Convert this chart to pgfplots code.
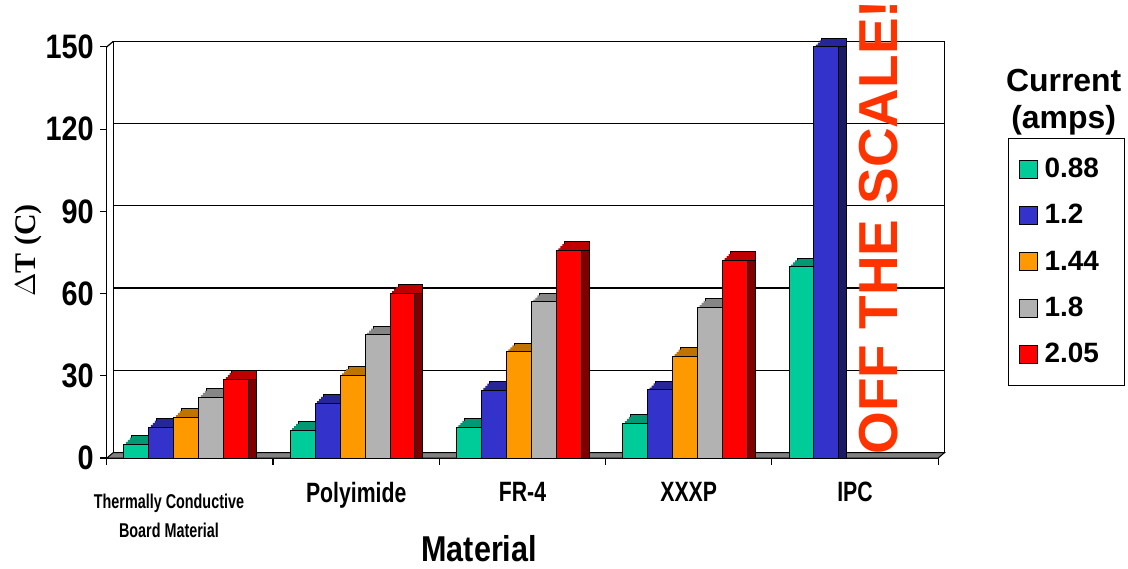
\documentclass[border=0pt]{standalone}
\usepackage{pgfplots}
\pgfplotsset{compat=1.18}
\usepackage{fontspec}
\setmainfont{Liberation Sans}[FakeStretch=0.85]
\newfontfamily\plainarial{Liberation Sans}
\newfontfamily\narrowA{Liberation Sans}[FakeStretch=0.76]
\newfontfamily\narrowB{Liberation Sans}[FakeStretch=0.72]
\newfontfamily\serifb{Liberation Serif}
\definecolor{cgreen}{HTML}{00CC99}\definecolor{cgreenT}{HTML}{009973}\definecolor{cgreenS}{HTML}{006B4F}
\definecolor{cblue}{HTML}{3333CC}\definecolor{cblueT}{HTML}{262699}\definecolor{cblueS}{HTML}{1A1A66}
\definecolor{corange}{HTML}{FF9900}\definecolor{corangeT}{HTML}{BF7300}\definecolor{corangeS}{HTML}{805000}
\definecolor{cgray}{HTML}{B2B2B2}\definecolor{cgrayT}{HTML}{868686}\definecolor{cgrayS}{HTML}{595959}
\definecolor{cred}{HTML}{FF0000}\definecolor{credT}{HTML}{BF0000}\definecolor{credS}{HTML}{800000}
\definecolor{offred}{HTML}{FF3300}
\definecolor{floorgray}{HTML}{808080}
\pgfplotsset{
  mylegend/.style={legend image code/.code={\draw[##1,draw=black,line width=0.5pt] (0pt,-4.5pt) rectangle (9pt,4.5pt);}},
}
\newcommand{\series}[5]{%
  \addplot[fill=#3, draw=black, line width=0.5pt, bar shift=#1, forget plot, transform canvas={xshift=4pt,yshift=4.3pt}] coordinates {#5};
  \addplot[fill=#3, draw=none, bar shift=#1, forget plot, transform canvas={xshift=3pt,yshift=3.2pt}] coordinates {#5};
  \addplot[fill=#3, draw=none, bar shift=#1, forget plot, transform canvas={xshift=2pt,yshift=2.15pt}] coordinates {#5};
  \addplot[fill=#3, draw=none, bar shift=#1, forget plot, transform canvas={xshift=1pt,yshift=1.1pt}] coordinates {#5};
  \addplot[fill=#4, draw=black, line width=0.5pt, bar shift=#1, forget plot, transform canvas={xshift=4pt}] coordinates {#5};
  \addplot[fill=#2, draw=black, line width=0.5pt, bar shift=#1, mylegend] coordinates {#5};
}
\begin{document}
\begin{tikzpicture}
\begin{axis}[
  scale only axis,
  width=416.5pt, height=206pt,
  xmin=-0.5, xmax=4.5, ymin=0, ymax=150,
  ybar, bar width=12.5pt,
  clip=false,
  axis x line*=bottom, axis y line*=left,
  axis line style={-, black, line width=0.6pt},
  ytick={0,30,60,90,120,150},
  tick align=outside,
  major tick length=3.5pt,
  minor tick length=3.5pt,
  ytick style={black, line width=0.6pt},
  xtick={0,1,2,3,4},
  major x tick style={draw=none},
  minor xtick={-0.5,0.5,1.5,2.5,3.5,4.5},
  minor x tick style={black, line width=0.6pt},
  xticklabels={{\narrowB\fontsize{10}{12.5}\selectfont\rule{0pt}{13pt}Thermally Conductive\hspace*{21pt}\\\narrowB\fontsize{10}{12.5}\selectfont Board Material\hspace*{21pt}},Polyimide,FR-4,XXXP,IPC},
  xticklabel style={align=center, anchor=north, yshift=-5pt, font=\narrowA\bfseries\fontsize{14}{15}\selectfont},
  yticklabel style={font=\bfseries\fontsize{17}{17}\selectfont, xshift=0.5pt},
  /pgf/number format/assume math mode=true,
  ymajorgrids,
  grid style={black, line width=0.6pt, shift={(3.25pt,2.75pt)}},
  xlabel={Material},
  xlabel style={at={(axis description cs:0.448,-0.221)}, anchor=center, font=\bfseries\fontsize{18}{18}\selectfont},
  ylabel={\serifb\bfseries $\Delta$T (C)},
  ylabel style={at={(axis description cs:-0.095,0.505)}, anchor=center, rotate=0, font=\fontsize{15}{15}\selectfont},
  legend style={at={(axis description cs:1.084,0.779)}, anchor=north west, draw=black, line width=0.6pt,
    font=\plainarial\bfseries\fontsize{14}{14}\selectfont, row sep=8pt, inner xsep=5pt, inner ysep=7.8pt,
    legend cell align=left, /tikz/every odd column/.append style={column sep=1.5pt}},
]
% back wall
\draw[black, line width=0.6pt] ([shift={(3.25pt,2.75pt)}]axis cs:-0.5,0) -- ([shift={(3.25pt,2.75pt)}]axis cs:-0.5,150) -- ([shift={(3.25pt,2.75pt)}]axis cs:4.5,150) -- ([shift={(3.25pt,2.75pt)}]axis cs:4.5,0);
\draw[black, line width=0.6pt] (axis cs:-0.5,150) -- ([shift={(3.25pt,2.75pt)}]axis cs:-0.5,150);
% floor
\filldraw[fill=floorgray, draw=black, line width=0.5pt] (axis cs:-0.5,0) -- (axis cs:4.5,0) -- ([shift={(3.25pt,2.75pt)}]axis cs:4.5,0) -- ([shift={(3.25pt,2.75pt)}]axis cs:-0.5,0) -- cycle;
\series{-26.8pt}{cgreen}{cgreenT}{cgreenS}{(0,5.1) (1,10.1) (2,11.2) (3,12.7) (4,69.8)}
\series{-14.3pt}{cblue}{cblueT}{cblueS}{(0,11.3) (1,20.0) (2,24.8) (3,24.9) (4,150)}
\series{-1.8pt}{corange}{corangeT}{corangeS}{(0,14.9) (1,30.1) (2,38.8) (3,37.2)}
\series{10.7pt}{cgray}{cgrayT}{cgrayS}{(0,22.2) (1,44.9) (2,57.0) (3,55.0)}
\series{23.2pt}{cred}{credT}{credS}{(0,28.7) (1,60.1) (2,75.7) (3,72.1)}
\legend{0.88\hspace*{6pt},1.2,1.44,1.8,2.05}
\node[rotate=90, anchor=west, inner sep=0pt, text=offred, font=\plainarial\bfseries\fontsize{27.5}{27.5}\selectfont] at (axis cs:4.14,1.2) {OFF THE SCALE!};
\node[align=center, font=\plainarial\bfseries\fontsize{16}{18.5}\selectfont] at (axis description cs:1.151,0.866) {Current\\(amps)};
\end{axis}
\path[use as bounding box] (-53.5pt,-53pt) rectangle (510.5pt,229pt);
\end{tikzpicture}
\end{document}
